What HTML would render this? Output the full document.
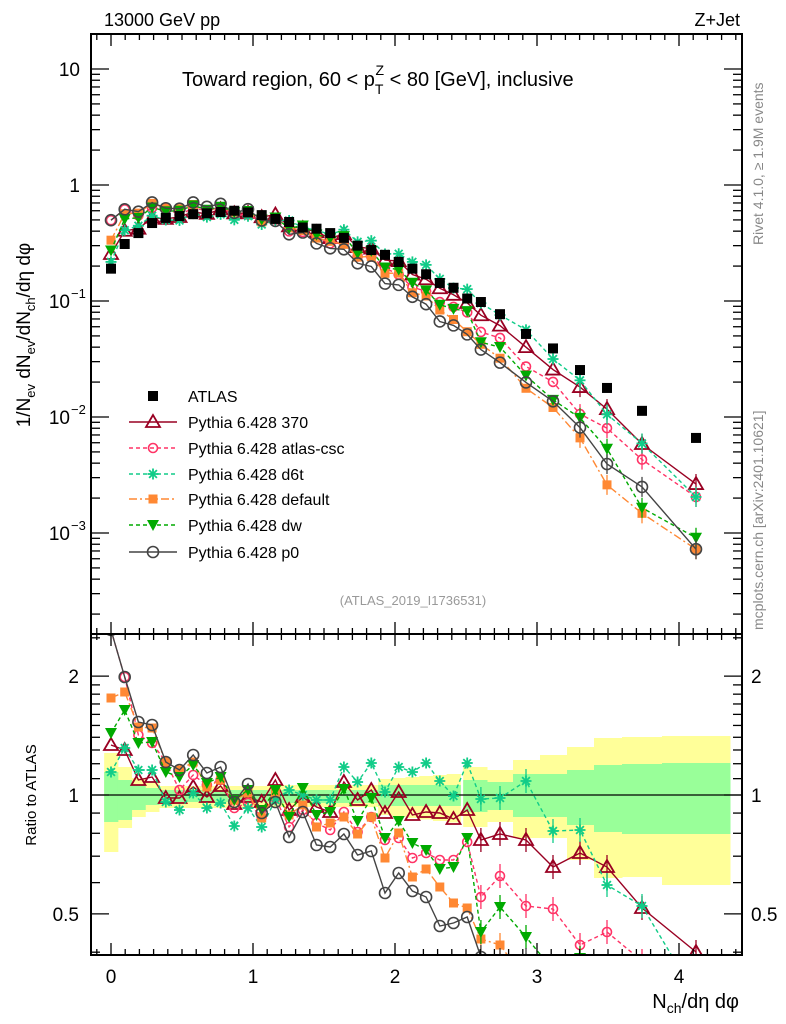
<!DOCTYPE html>
<html><head><meta charset="utf-8"><style>
html,body{margin:0;padding:0;background:#fff;overflow:hidden;width:786px;height:1024px;}
svg{display:block;font-family:"Liberation Sans",sans-serif;}
</style></head><body>
<svg id="s" width="786" height="1024" xmlns="http://www.w3.org/2000/svg"></svg>
<script>
const S=document.getElementById('s');let h='';
const L=91,R=742,T=34,M=634,B=955;
const X=v=>111+142*v;
const YM=v=>185-116*Math.log10(v);
const YR=v=>795-395*Math.log10(v);
const px=[];for(let i=0;i<28;i++)px.push(111+13.7*i);px.push(500,526,553,580,607,642,696);
const atlas=[0.19,0.31,0.385,0.47,0.52,0.54,0.56,0.57,0.585,0.60,0.58,0.55,0.51,0.48,0.43,0.42,0.385,0.35,0.30,0.275,0.25,0.217,0.19,0.17,0.143,0.13,0.105,0.098,0.077,0.052,0.039,0.0254,0.0178,0.0113,0.0066];
const series=[
{n:'370',c:'#990022',d:'',m:'tri',y:[745,750,780,777,798,798,787,797,786,804,797,802,780,810,797,807,812,782,800,790,813,792,815,812,813,819,810,840,834,840,867,853,867,908,952]},
{n:'atlas-csc',c:'#ff3366',d:'4,3',m:'circ',y:[630,677,735,743,762,790,775,785,780,808,803,817,798,827,810,823,830,812,832,817,840,838,858,853,860,860,842,897,876,906,909,945,932,961,996]},
{n:'d6t',c:'#11cc88',d:'4,3',m:'star',y:[772,748,770,770,802,810,793,808,803,826,808,827,800,790,795,800,800,767,782,763,792,767,772,763,781,796,763,799,798,781,831,830,885,906,996]},
{n:'default',c:'#ff8833',d:'8,3,2,3',m:'sq',y:[698,692,727,728,762,770,762,787,780,800,793,818,793,815,805,827,823,817,834,817,858,833,877,869,887,903,908,939,945,980,996,1026,1125,1144,1174]},
{n:'dw',c:'#00aa00',d:'4,3',m:'dtri',y:[733,710,743,742,772,777,765,783,777,800,790,810,790,817,788,815,812,789,821,798,838,821,843,850,869,867,838,932,907,937,970,958,1002,1125,1135]},
{n:'p0',c:'#444444',d:'',m:'ocirc',y:[630,677,722,725,762,770,755,773,767,802,784,813,802,837,812,845,847,834,855,851,893,873,891,897,926,923,917,957,960,960,975,991,1054,1054,1174]}
];
const ratio=y=>Math.pow(10,(795-y)/395);
function marker(m,x,y,c){
 if(m=='tri')return `<polygon points="${x},${y-7} ${x-7},${y+5} ${x+7},${y+5}" fill="none" stroke="${c}" stroke-width="1.8"/>`;
 if(m=='circ')return `<circle cx="${x}" cy="${y}" r="4.5" fill="none" stroke="${c}" stroke-width="1.6"/>`;
 if(m=='ocirc')return `<circle cx="${x}" cy="${y}" r="5.5" fill="none" stroke="${c}" stroke-width="1.6"/>`;
 if(m=='sq')return `<rect x="${x-4.5}" y="${y-4.5}" width="9" height="9" fill="${c}"/>`;
 if(m=='dtri')return `<polygon points="${x-6},${y-5} ${x+6},${y-5} ${x},${y+6}" fill="${c}"/>`;
 if(m=='star'){let s='';for(let a=0;a<4;a++){const t=a*Math.PI/4;s+=`<line x1="${x-5.5*Math.cos(t)}" y1="${y-5.5*Math.sin(t)}" x2="${x+5.5*Math.cos(t)}" y2="${y+5.5*Math.sin(t)}" stroke="${c}" stroke-width="1.8"/>`;}return s;}
 if(m=='bsq')return `<rect x="${x-5}" y="${y-5}" width="10" height="10" fill="#000"/>`;
 return '';
}
h+=`<defs><clipPath id="cm"><rect x="${L}" y="${T}" width="${R-L}" height="${M-T}"/></clipPath><clipPath id="cr"><rect x="${L}" y="${M}" width="${R-L}" height="${B-M}"/></clipPath></defs>`;
const bands=[[753,852,772,822],[767,828,780,820],[778,817,785,810],[783,812,788,805]];
for(let i=4;i<12;i++)bands.push([786,808,790,802]);
for(let i=12;i<20;i++)bands.push([785,807,790,803]);
for(let i=20;i<26;i++)bands.push([779+(i-20)*-1,815+(i-20)*1.5,785,806]);
bands.push([767,827,780,812],[767,827,780,812],[770,822,782,810],[760,838,774,817],[755,838,774,817],[747,860,770,825],[738,878,765,832],[737,877,764,834],[736,885,763,834]);
const edges=[];for(let i=0;i<28;i++)edges.push([px[i]-6.85,px[i]+6.85]);
edges[26]=[463.2,474];edges[27]=[474,487];
edges.push([487,513],[513,540],[540,567],[567,594],[594,622],[622,662],[662,730]);
let g='<g clip-path="url(#cr)">';
bands.forEach((b,i)=>{const[e0,e1]=edges[i];g+=`<rect x="${e0}" y="${b[0]}" width="${e1-e0+0.5}" height="${b[1]-b[0]}" fill="#ffff99"/>`;});
bands.forEach((b,i)=>{const[e0,e1]=edges[i];g+=`<rect x="${e0}" y="${b[2]}" width="${e1-e0+0.5}" height="${b[3]-b[2]}" fill="#99ff99"/>`;});
g+=`<line x1="${L}" y1="795" x2="${R}" y2="795" stroke="#000" stroke-width="1.3"/>`;
series.forEach(s=>{
 g+=`<polyline points="${s.y.map((y,i)=>px[i]+','+Math.min(y,1015)).join(' ')}" fill="none" stroke="${s.c}" stroke-width="1.4" ${s.d?`stroke-dasharray="${s.d}"`:''}/>`;
 s.y.forEach((y,i)=>{if(y>965)return;if(i>26){g+=`<line x1="${px[i]}" y1="${y-12}" x2="${px[i]}" y2="${y+12}" stroke="${s.c}" stroke-width="1.3"/>`;}g+=marker(s.m,px[i],y,s.c);});
});
g+='</g>';h+=g;
g='<g clip-path="url(#cm)">';
series.forEach(s=>{
 const ys=s.y.map((y,i)=>YM(atlas[i]*ratio(y)));
 g+=`<polyline points="${ys.map((y,i)=>px[i]+','+y.toFixed(1)).join(' ')}" fill="none" stroke="${s.c}" stroke-width="1.4" ${s.d?`stroke-dasharray="${s.d}"`:''}/>`;
 ys.forEach((y,i)=>{if(i>30)g+=`<line x1="${px[i]}" y1="${y-10}" x2="${px[i]}" y2="${y+10}" stroke="${s.c}" stroke-width="1.3"/>`;g+=marker(s.m,px[i],y,s.c);});
});
atlas.forEach((a,i)=>g+=marker('bsq',px[i],YM(a)));
g+='</g>';h+=g;
h+=`<rect x="${L}" y="${T}" width="${R-L}" height="${M-T}" fill="none" stroke="#000" stroke-width="2"/>`;
h+=`<rect x="${L}" y="${M}" width="${R-L}" height="${B-M}" fill="none" stroke="#000" stroke-width="2"/>`;
for(let k=-1;k<=44;k++){const x=X(k/10);if(x<L+1||x>R-1)continue;const len=k%10==0?12:6;
 [[T,1],[M,-1],[M,1],[B,-1]].forEach(([y0,d])=>h+=`<line x1="${x}" y1="${y0}" x2="${x}" y2="${y0+d*len}" stroke="#000" stroke-width="1.3"/>`);}
for(let k=0;k<=4;k++)h+=`<text x="${X(k)}" y="983" font-size="19" text-anchor="middle">${k}</text>`;
for(let e=-4;e<=1;e++)for(let m=1;m<10;m++){const v=m*Math.pow(10,e);const y=YM(v);if(y<T+1||y>M-1)continue;const len=m==1?18:9;
 h+=`<line x1="${L}" y1="${y}" x2="${L+len}" y2="${y}" stroke="#000" stroke-width="1.3"/><line x1="${R}" y1="${y}" x2="${R-len}" y2="${y}" stroke="#000" stroke-width="1.3"/>`;}
h+=`<text x="80" y="76" font-size="19" text-anchor="end">10</text><text x="80" y="192" font-size="19" text-anchor="end">1</text>`;
[[-1,301],[-2,417],[-3,533]].forEach(([e,y])=>h+=`<text x="70" y="${y+7}" font-size="19" text-anchor="end">10</text><text x="71" y="${y-3}" font-size="13">${e==-1?'−1':e==-2?'−2':'−3'}</text>`);
const rt=[0.4,0.5,0.6,0.7,0.8,0.9,1,1.1,1.2,1.3,1.4,1.5,1.6,1.7,1.8,1.9,2,2.5];
rt.forEach(v=>{const y=YR(v);if(y<M+1||y>B-1)return;const len=(v==0.5||v==1||v==2)?18:9;
 h+=`<line x1="${L}" y1="${y}" x2="${L+len}" y2="${y}" stroke="#000" stroke-width="1.3"/><line x1="${R}" y1="${y}" x2="${R-len}" y2="${y}" stroke="#000" stroke-width="1.3"/>`;});
[[2,'2'],[1,'1'],[0.5,'0.5']].forEach(([v,t])=>{const y=YR(v)+7;h+=`<text x="79" y="${y}" font-size="19" text-anchor="end">${t}</text><text x="751" y="${y}" font-size="19">${t}</text>`;});
const leg=[['ATLAS','bsq','#000','',396],['Pythia 6.428 370','tri','#990022','',422],['Pythia 6.428 atlas-csc','circ','#ff3366','4,3',448],['Pythia 6.428 d6t','star','#11cc88','4,3',474],['Pythia 6.428 default','sq','#ff8833','8,3,2,3',499],['Pythia 6.428 dw','dtri','#00aa00','4,3',525],['Pythia 6.428 p0','ocirc','#444444','',552]];
leg.forEach(([t,m,c,d,y],i)=>{if(i>0)h+=`<line x1="129" y1="${y}" x2="177" y2="${y}" stroke="${c}" stroke-width="1.4" ${d?`stroke-dasharray="${d}"`:''}/>`;
 h+=marker(m,153,y,c);h+=`<text x="188" y="${y+6}" font-size="16">${t}</text>`;});
h+=`<text x="104" y="26" font-size="18">13000 GeV pp</text><text x="740" y="26" font-size="18" text-anchor="end">Z+Jet</text>`;
h+=`<text x="182" y="86" font-size="20">Toward region, 60 &lt; p<tspan font-size="14" dy="8">T</tspan><tspan font-size="14" dx="-8" dy="-19">Z</tspan><tspan dy="11"> &lt; 80 [GeV], inclusive</tspan></text>`;
h+=`<text x="413" y="605" font-size="13" fill="#999" text-anchor="middle">(ATLAS_2019_I1736531)</text>`;
h+=`<text transform="translate(30,335) rotate(-90)" font-size="19" text-anchor="middle">1/N<tspan font-size="13" dy="5">ev</tspan><tspan dy="-5"> dN</tspan><tspan font-size="13" dy="5">ev</tspan><tspan dy="-5">/dN</tspan><tspan font-size="13" dy="5">ch</tspan><tspan dy="-5">/dη dφ</tspan></text>`;
h+=`<text transform="translate(36,795) rotate(-90)" font-size="15" text-anchor="middle">Ratio to ATLAS</text>`;
h+=`<text x="739" y="1008" font-size="20" text-anchor="end">N<tspan font-size="14" dy="5">ch</tspan><tspan dy="-5">/dη dφ</tspan></text>`;
h+=`<text transform="translate(763,245) rotate(-90)" font-size="14" fill="#888">Rivet 4.1.0, ≥ 1.9M events</text>`;
h+=`<text transform="translate(763,630) rotate(-90)" font-size="14" fill="#888">mcplots.cern.ch [arXiv:2401.10621]</text>`;
S.innerHTML=h;
</script>
</body></html>
